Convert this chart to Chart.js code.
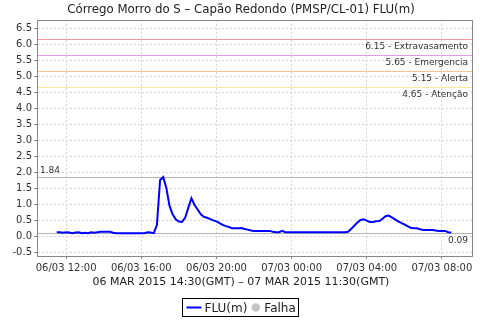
<!DOCTYPE html>
<html>
<head>
<meta charset="utf-8">
<script src="https://cdn.jsdelivr.net/npm/chart.js@4/dist/chart.umd.min.js"></script>
<style>
  html, body { margin: 0; padding: 0; background: #fff; }
</style>
</head>
<body>
<canvas id="fluChart" width="480" height="320"></canvas>
<script>
// readings every 10 minutes, local time, from 06/03 11:30 to 07/03 08:30
const startHour = 11.5;
const stepHours = 10 / 60;
const fluValues = [
  0.12, 0.12, 0.10,
  0.12, 0.11, 0.09, 0.11, 0.12, 0.09,
  0.10, 0.09, 0.12, 0.10, 0.12, 0.13,
  0.13, 0.13, 0.13, 0.10, 0.09, 0.09,
  0.09, 0.09, 0.09, 0.09, 0.09, 0.09,
  0.09, 0.09, 0.12, 0.11, 0.09, 0.35,
  1.75, 1.84, 1.50, 0.95, 0.68, 0.52,
  0.45, 0.44, 0.57, 0.88, 1.18, 0.97,
  0.83, 0.68, 0.60, 0.57, 0.53, 0.49,
  0.46, 0.40, 0.35, 0.31, 0.28, 0.24,
  0.24, 0.24, 0.25, 0.22, 0.20, 0.17,
  0.16, 0.16, 0.16, 0.16, 0.16, 0.16,
  0.13, 0.12, 0.12, 0.16, 0.12, 0.12,
  0.12, 0.12, 0.12, 0.12, 0.12, 0.12,
  0.12, 0.12, 0.12, 0.12, 0.12, 0.12,
  0.12, 0.12, 0.12, 0.12, 0.12, 0.12,
  0.13, 0.22, 0.32, 0.42, 0.50, 0.52,
  0.48, 0.44, 0.44, 0.46, 0.47, 0.54,
  0.62, 0.64, 0.58, 0.52, 0.46, 0.41,
  0.36, 0.31, 0.26, 0.24, 0.24, 0.21,
  0.19, 0.19, 0.19, 0.19, 0.17, 0.16,
  0.16, 0.16, 0.12, 0.11
];
const xTickHours = [12, 16, 20, 24, 28, 32];
const yTickValues = [-0.5, 0, 0.5, 1, 1.5, 2, 2.5, 3, 3.5, 4, 4.5, 5, 5.5, 6, 6.5];
const thresholdValues = [6.15, 5.65, 5.15, 4.65];
const thresholdNames = ['Extravasamento', 'Emergencia', 'Alerta', 'Atenção'];
const thresholdColors = ['#f29a9a', '#e79ae7', '#f6c48f', '#f5ec9e'];

const fluPoints = fluValues.map((v, i) => ({ x: startHour + i * stepHours, y: v }));
const maxValue = Math.max(...fluValues);
const minValue = Math.min(...fluValues);

const pad = n => String(n).padStart(2, '0');
function hourLabel(h) {
  const day = 6 + Math.floor(h / 24);
  return pad(day) + '/03 ' + pad(h % 24) + ':00';
}

const refLines = {
  id: 'refLines',
  beforeDatasetsDraw(chart) {
    const { ctx, chartArea: a, scales: { y } } = chart;
    ctx.save();
    ctx.setLineDash([]);
    ctx.lineWidth = 1;
    ctx.font = '9px "DejaVu Sans"';
    ctx.fillStyle = '#333';
    thresholdValues.forEach((v, i) => {
      const py = Math.round(y.getPixelForValue(v)) + 0.5;
      ctx.strokeStyle = thresholdColors[i];
      ctx.beginPath(); ctx.moveTo(a.left, py); ctx.lineTo(a.right, py); ctx.stroke();
      ctx.textAlign = 'right'; ctx.textBaseline = 'top';
      ctx.fillText(v.toFixed(2) + ' - ' + thresholdNames[i], a.right - 4, py + 3);
    });
    ctx.strokeStyle = '#b4b4b4';
    let py = Math.round(y.getPixelForValue(maxValue)) + 0.5;
    ctx.beginPath(); ctx.moveTo(a.left, py); ctx.lineTo(a.right, py); ctx.stroke();
    ctx.textAlign = 'left'; ctx.textBaseline = 'bottom';
    ctx.fillText(maxValue.toFixed(2), a.left + 3, py - 2);
    py = Math.round(y.getPixelForValue(minValue)) + 0.5;
    ctx.beginPath(); ctx.moveTo(a.left, py); ctx.lineTo(a.right, py); ctx.stroke();
    ctx.textAlign = 'right'; ctx.textBaseline = 'top';
    ctx.fillText(minValue.toFixed(2), a.right - 4, py + 3);
    ctx.restore();
  },
  afterDraw(chart) {
    const { ctx, chartArea: a } = chart;
    ctx.save();
    ctx.strokeStyle = '#888';
    ctx.lineWidth = 1;
    ctx.strokeRect(Math.round(a.left) + 0.5, Math.round(a.top) + 0.5,
      Math.round(a.right - a.left), Math.round(a.bottom - a.top));

    // legend box under the subtitle
    const [flu, falha] = chart.data.datasets;
    ctx.font = '12px "DejaVu Sans"';
    const w1 = ctx.measureText(flu.label).width;
    const w2 = ctx.measureText(falha.label).width;
    const boxW = 4 + 15 + 3 + w1 + 4 + 9 + 4 + w2 + 3;
    const bx = Math.round(chart.width / 2 - boxW / 2) + 0.5;
    const by = 298.5, bh = 18, cy = by + bh / 2;
    ctx.strokeStyle = '#000';
    ctx.strokeRect(bx, by, Math.round(boxW), bh);
    let x = bx + 4;
    ctx.strokeStyle = flu.borderColor; ctx.lineWidth = 2;
    ctx.beginPath(); ctx.moveTo(x, cy); ctx.lineTo(x + 15, cy); ctx.stroke();
    x += 18;
    ctx.fillStyle = '#222'; ctx.textAlign = 'left'; ctx.textBaseline = 'middle';
    ctx.fillText(flu.label, x, cy + 1);
    x += w1 + 4;
    ctx.fillStyle = falha.backgroundColor;
    ctx.beginPath(); ctx.arc(x + 4.5, cy, 4.2, 0, Math.PI * 2); ctx.fill();
    x += 13;
    ctx.fillStyle = '#222';
    ctx.fillText(falha.label, x, cy + 1);
    ctx.restore();
  }
};

new Chart(document.getElementById('fluChart'), {
  type: 'line',
  data: {
    datasets: [{
      label: 'FLU(m)',
      data: fluPoints,
      borderColor: '#0000ff',
      backgroundColor: '#0000ff',
      borderWidth: 2,
      pointRadius: 0,
      tension: 0
    }, {
      label: 'Falha',
      data: [],
      borderColor: '#c4c4c4',
      backgroundColor: '#c4c4c4'
    }]
  },
  options: {
    responsive: false,
    animation: false,
    devicePixelRatio: 1,
    layout: { padding: { left: 10, right: 8, top: 0, bottom: 26 } },
    plugins: {
      title: {
        display: true,
        text: 'Córrego Morro do S – Capão Redondo (PMSP/CL-01) FLU(m)',
        color: '#222',
        font: { family: 'DejaVu Sans', size: 11.75, weight: 'normal' },
        padding: { top: 3, bottom: 3 }
      },
      subtitle: {
        display: true,
        position: 'bottom',
        text: '06 MAR 2015 14:30(GMT) – 07 MAR 2015 11:30(GMT)',
        color: '#222',
        font: { family: 'DejaVu Sans', size: 11, weight: 'normal' },
        padding: { top: 1.4, bottom: 5.4 }
      },
      legend: { display: false },
      tooltip: { enabled: false }
    },
    scales: {
      x: {
        type: 'linear',
        min: 10.45,
        max: 33.6,
        afterFit(scale) { scale.height = 18; },
        afterBuildTicks(scale) { scale.ticks = xTickHours.map(v => ({ value: v })); },
        ticks: {
          callback: v => hourLabel(v),
          color: '#333',
          maxRotation: 0,
          autoSkip: false,
          padding: 3,
          font: { family: 'DejaVu Sans', size: 10 }
        },
        grid: { color: '#d4d4d4', tickLength: 3, tickColor: '#888', tickBorderDash: [] },
        border: { display: true, color: '#888', dash: [2, 2] }
      },
      y: {
        min: -0.625,
        max: 6.75,
        afterFit(scale) { scale.width = 27; },
        afterBuildTicks(scale) { scale.ticks = yTickValues.map(v => ({ value: v })); },
        ticks: {
          callback: v => Number(v).toFixed(1),
          color: '#333',
          padding: 2,
          font: { family: 'DejaVu Sans', size: 10 }
        },
        grid: { color: '#d4d4d4', tickLength: 3, tickColor: '#888', tickBorderDash: [] },
        border: { display: true, color: '#888', dash: [2, 2] }
      }
    }
  },
  plugins: [refLines]
});
</script>
</body>
</html>
